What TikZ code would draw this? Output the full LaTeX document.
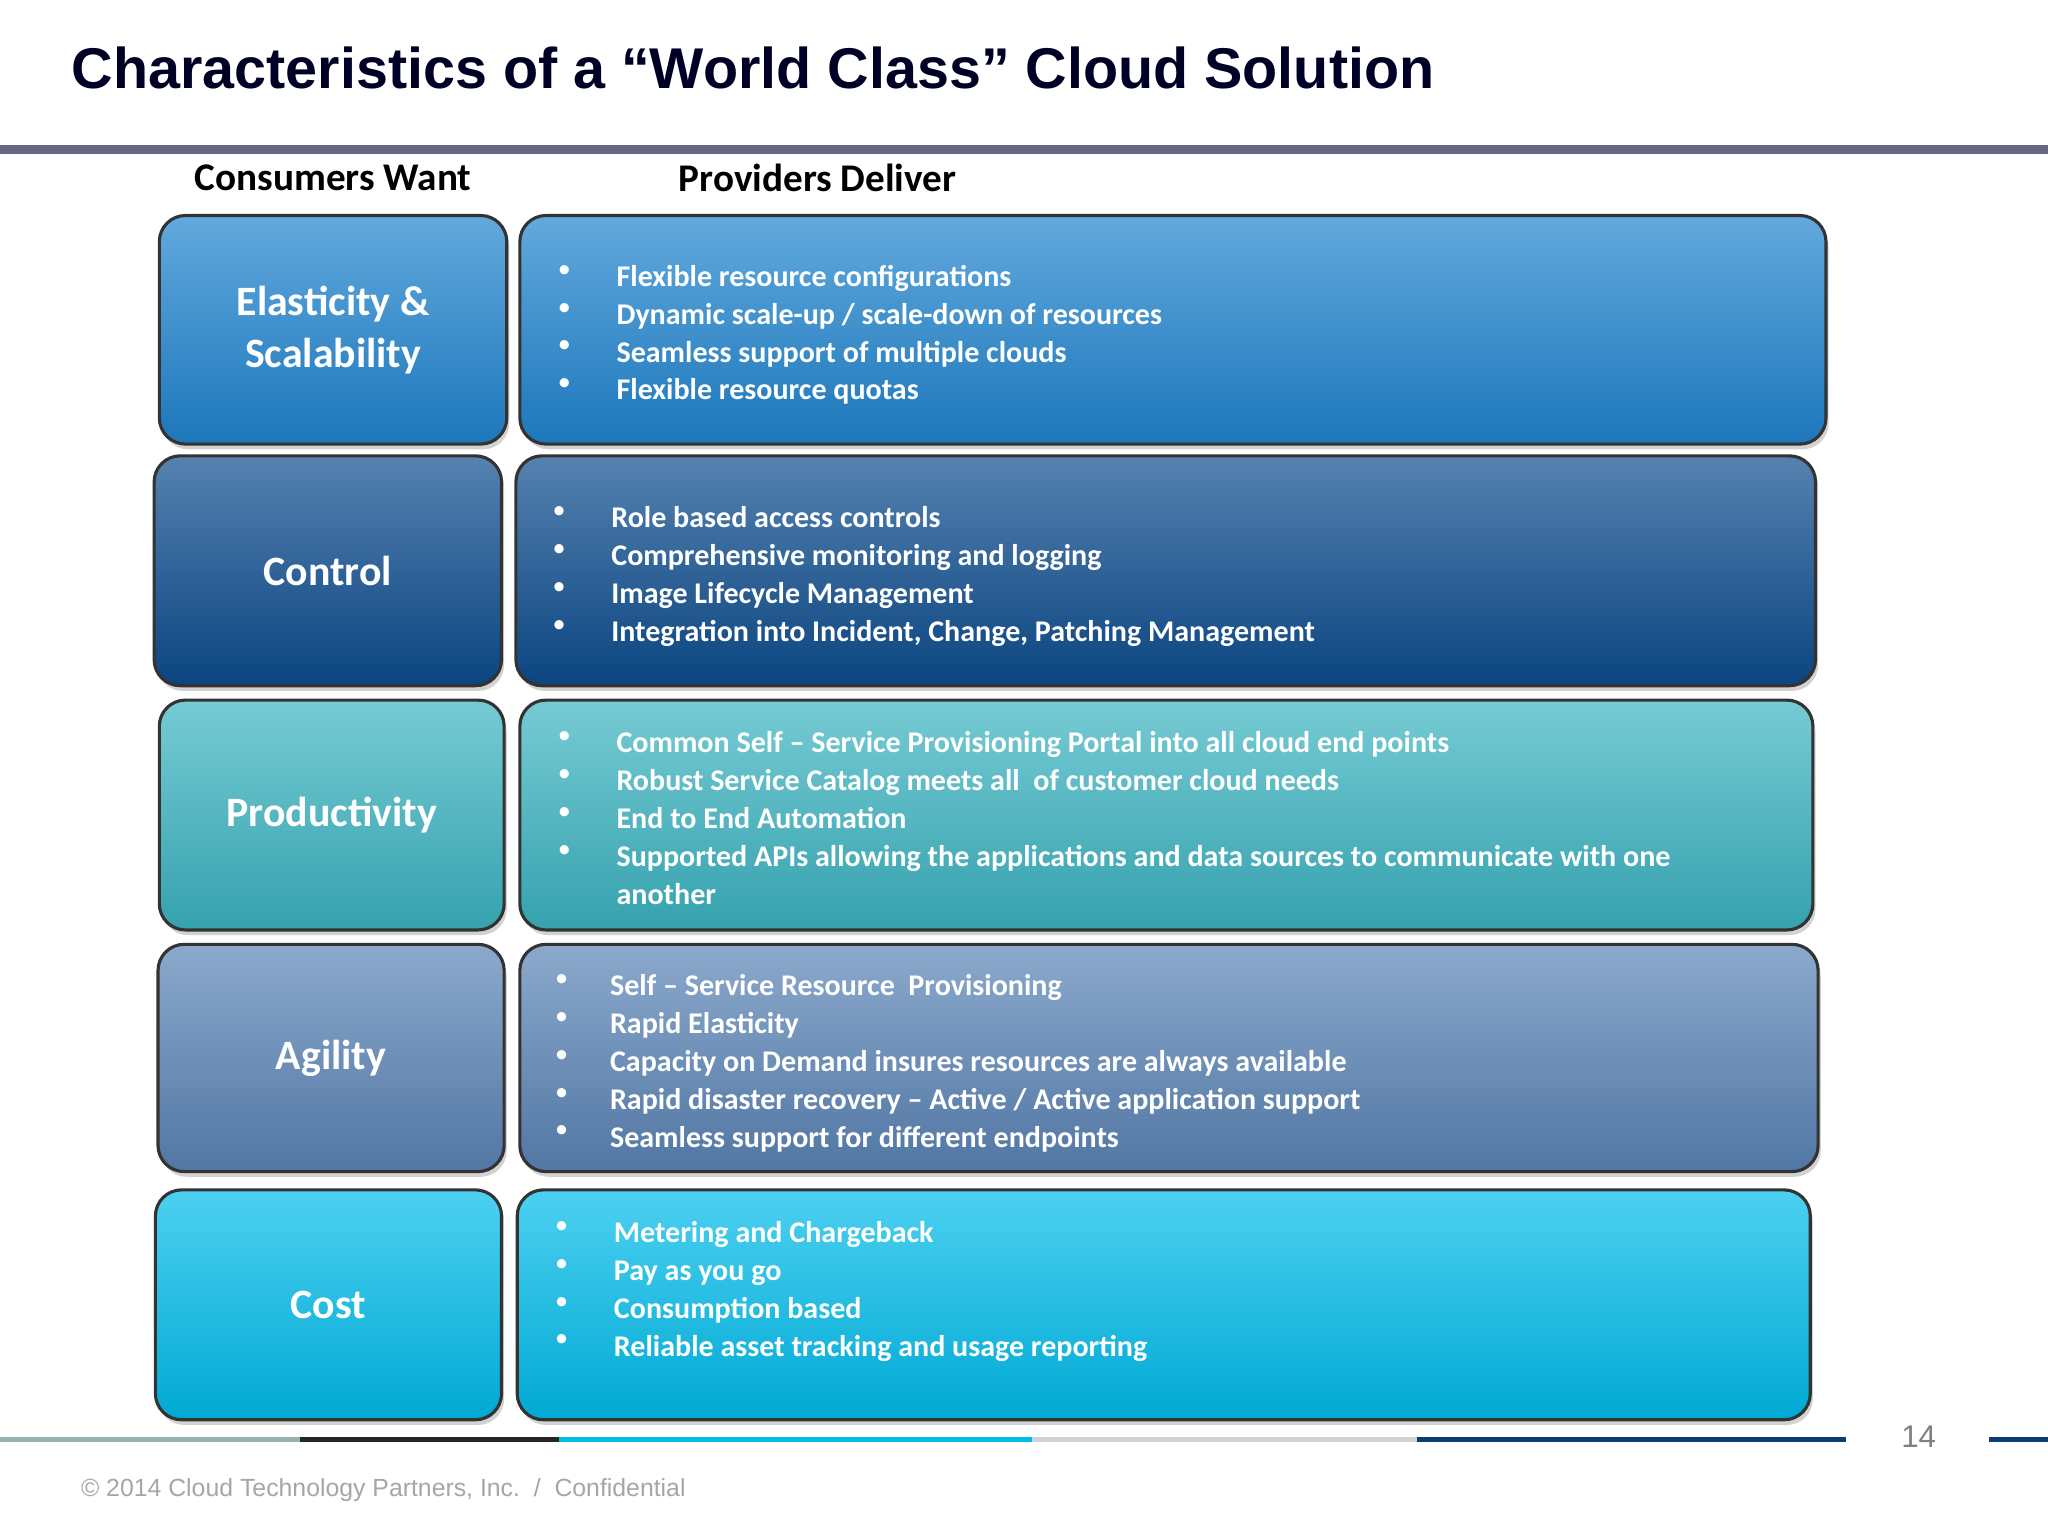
\documentclass[tikz,border=0pt]{standalone}
\usepackage{fontspec}
\setmainfont{Carlito}
\newfontfamily\arialf{Liberation Sans}
\usetikzlibrary{shadows}
\begin{document}
\begin{tikzpicture}[x=0.5pt,y=-0.5pt,
  box/.style={draw=black!80,line width=1.2pt,rounded corners=10pt,drop shadow={opacity=0.35,shadow xshift=1pt,shadow yshift=-2pt}},
  lbl/.style={text=white,font=\bfseries\fontsize{16}{20}\selectfont,align=center},
  bl/.style={text=white,font=\bfseries\fontsize{11.5}{14.5}\selectfont,anchor=north west,align=left},
  bul/.style={text=white,font=\fontsize{10}{14.5}\selectfont,anchor=north west,align=left}]
\useasboundingbox (0,0) rectangle (1568,1176);
\fill[white] (0,0) rectangle (1568,1176);
\node[anchor=west,font=\arialf\bfseries\fontsize{22}{26}\selectfont,text=black!85!blue] (title) at (48,52) {Characteristics of a “World Class” Cloud Solution};
\fill[black!80!blue!60] (0,111) rectangle (1568,118);
\node[font=\bfseries\fontsize{15}{18}\selectfont] (cw) at (255,136) {Consumers Want};
\node[font=\bfseries\fontsize{15}{18}\selectfont] (pd) at (626,136) {Providers Deliver};
% row helper
\newcommand{\rowx}[9]{%
 \path[box,top color=#9!70!white,bottom color=#9!90!black] (#1,#3) rectangle (#2,#4);
 \path[box,top color=#9!70!white,bottom color=#9!90!black] (#5,#3) rectangle (#6,#4);
 \node[lbl] (l#7) at ({(#1+#2)/2},{(#3+#4)/2}) {#8};}
\definecolor{c1}{HTML}{1F84CF}
\definecolor{c2}{HTML}{0C4C8E}
\definecolor{c3}{HTML}{3BB4C1}
\definecolor{c4}{HTML}{5A84B6}
\definecolor{c5}{HTML}{00BCEB}
\rowx{122}{388}{165}{340}{398}{1398}{1}{Elasticity \&\\Scalability}{c1}
\rowx{118}{384}{349}{525}{395}{1390}{2}{Control}{c2}
\rowx{122}{386}{536}{712}{398}{1388}{3}{Productivity}{c3}
\rowx{121}{386}{723}{897}{398}{1392}{4}{Agility}{c4}
\rowx{119}{384}{911}{1087}{396}{1386}{5}{Cost}{c5}
\node[bul] (b1) at (420,196) {•\\•\\•\\•};
\node[bl] (t1) at (465,196) {Flexible resource configurations\\Dynamic scale-up / scale-down of resources\\Seamless support of multiple clouds\\Flexible resource quotas};
\node[bul] (b2) at (416,381) {•\\•\\•\\•};
\node[bl] (t2) at (461,381) {Role based access controls\\Comprehensive monitoring and logging\\Image Lifecycle Management\\Integration into Incident, Change, Patching Management};
\node[bul] (b3) at (420,553) {•\\•\\•\\•};
\node[bl] (t3) at (465,553) {Common Self – Service Provisioning Portal into all cloud end points\\Robust Service Catalog meets all\ \ of customer cloud needs\\End to End Automation\\Supported APIs allowing the applications and data sources to communicate with one\\another};
\node[bul] (b4) at (418,739) {•\\•\\•\\•\\•};
\node[bl] (t4) at (460,739) {Self – Service Resource\ \ Provisioning\\Rapid Elasticity\\Capacity on Demand insures resources are always available\\Rapid disaster recovery – Active / Active application support\\Seamless support for different endpoints};
\node[bul] (b5) at (418,928) {•\\•\\•\\•};
\node[bl] (t5) at (463,928) {Metering and Chargeback\\Pay as you go\\Consumption based\\Reliable asset tracking and usage reporting};
% bottom bar
\fill[teal!40!gray!60] (0,1100) rectangle (230,1104);
\fill[black!85] (230,1100) rectangle (428,1104);
\fill[c5] (428,1100) rectangle (790,1104);
\fill[gray!35] (790,1100) rectangle (1085,1104);
\fill[c2!80!black] (1085,1100) rectangle (1413,1104);
\fill[c2!80!black] (1523,1100) rectangle (1568,1104);
\node[font=\arialf\fontsize{12}{14}\selectfont,text=gray] (pg) at (1469,1100) {14};
\node[anchor=west,font=\arialf\fontsize{9.5}{12}\selectfont,text=gray!70] (ft) at (55,1141) {© 2014 Cloud Technology Partners, Inc.\ \ /\ \ Confidential};
\end{tikzpicture}
\end{document}
